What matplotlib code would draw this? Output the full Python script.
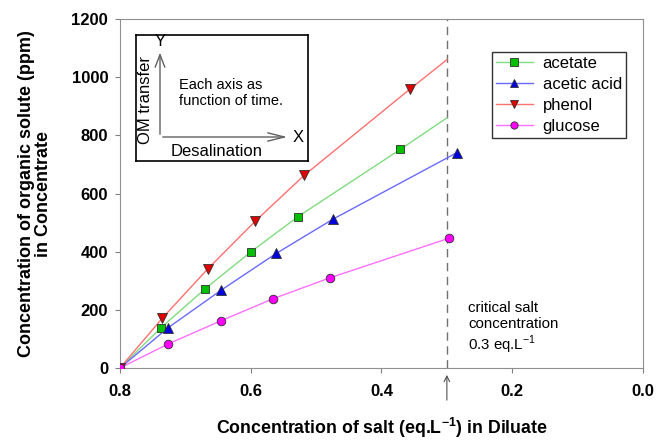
import numpy as np
import matplotlib
matplotlib.use("Agg")
import matplotlib.pyplot as plt

plt.rcParams['font.family'] = ['Liberation Sans', 'DejaVu Sans']
plt.rcParams['mathtext.fontset'] = 'custom'
plt.rcParams['mathtext.rm'] = 'Liberation Sans'
plt.rcParams['mathtext.bf'] = 'Liberation Sans:bold'

# -------------------- Data --------------------
acetate_x = [0.80, 0.737, 0.670, 0.600, 0.528, 0.371]
acetate_y = [0, 139, 272, 399, 520, 752]
acetic_x = [0.80, 0.726, 0.645, 0.561, 0.474, 0.285]
acetic_y = [0, 139, 268, 394, 512, 740]
phenol_x = [0.80, 0.735, 0.666, 0.593, 0.518, 0.357]
phenol_y = [0, 172, 340, 505, 663, 958]
glucose_x = [0.80, 0.726, 0.646, 0.566, 0.479, 0.297]
glucose_y = [0, 83, 162, 238, 310, 446]

# where the drawn curves end at the critical line
acetate_end = (0.30, 860)
phenol_end = (0.30, 1060)

critical_x = 0.3

series = [
    ("acetate", acetate_x, acetate_y, acetate_end, "s", 6.0, "#00c000", "#7fdc7f"),
    ("acetic acid", acetic_x, acetic_y, None, "^", 6.8, "#0000e0", "#6a6aff"),
    ("phenol", phenol_x, phenol_y, phenol_end, "v", 6.8, "#e00000", "#ff7070"),
    ("glucose", glucose_x, glucose_y, None, "o", 6.2, "#ff00ff", "#ff70ff"),
]

# -------------------- Plot --------------------
fig = plt.figure(figsize=(6.57, 4.42), dpi=100)
ax = fig.add_axes([0.1826, 0.1674, 0.7961, 0.7896])

for name, xs, ys, end, mk, ms, mc, lc in series:
    lx, ly = list(xs), list(ys)
    if end is not None:
        lx.append(end[0])
        ly.append(end[1])
    ax.plot(lx, ly, color=lc, lw=1.0, zorder=2)
    ax.plot(xs, ys, ls="none", marker=mk, ms=ms, mfc=mc, mec="#303030",
            mew=0.6, zorder=3)
    ax.plot([], [], color=lc, lw=1.0, marker=mk, ms=ms * 0.85, mfc=mc,
            mec="#303030", mew=0.6, label=name)

ax.axvline(critical_x, color="#707070", lw=1.0, ls=(0, (6, 4)), zorder=1)

ax.set_xlim(0.8, 0.0)
ax.set_ylim(0, 1200)
ax.set_xticks([0.8, 0.6, 0.4, 0.2, 0.0])
ax.set_xticklabels(["0.8", "0.6", "0.4", "0.2", "0.0"])
ax.set_yticks(np.arange(0, 1201, 200))
for lab in ax.get_xticklabels() + ax.get_yticklabels():
    lab.set_fontweight("bold")
    lab.set_fontsize(12)
ax.tick_params(direction="out", length=3.5, color="#808080")
ax.tick_params(axis="y", pad=5)
ax.tick_params(axis="x", pad=8)
for sp in ax.spines.values():
    sp.set_color("#909090")

ax.set_xlabel("Concentration of salt (eq.L$^{\\mathbf{-1}}$) in Diluate",
              fontsize=12.8, fontweight="bold", labelpad=12)
ax.set_ylabel("Concentration of organic solute (ppm)\nin Concentrate",
              fontsize=13, fontweight="bold", labelpad=14, linespacing=1.0)

leg = ax.legend(loc="upper right", bbox_to_anchor=(0.9675, 0.9054), fontsize=12,
                frameon=True, fancybox=False, edgecolor="black",
                handlelength=2.2, handletextpad=0.6, borderpad=0.25,
                labelspacing=0.36, borderaxespad=0)
leg.get_frame().set_linewidth(1.0)

ax.text(0.267, 232, "critical salt\nconcentration\n0.3 eq.L$^{-1}$",
        fontsize=10.8, va="top", ha="left", linespacing=1.2)

# arrow under the axis pointing at the critical concentration
ax.annotate("", xy=(critical_x, -14), xytext=(critical_x, -120),
            arrowprops=dict(arrowstyle="->", color="#505050", lw=0.8),
            annotation_clip=False)

# inset sketch box
inset = fig.add_axes([136 / 657, 1 - 161 / 442, 172 / 657, 126 / 442])
inset.set_xlim(0, 172)
inset.set_ylim(126, 0)
inset.set_xticks([])
inset.set_yticks([])
for sp in inset.spines.values():
    sp.set_linewidth(1.2)
inset.annotate("", xy=(24, 15), xytext=(24, 102),
               arrowprops=dict(arrowstyle="->,head_length=0.9,head_width=0.35",
                               color="#606060", lw=1.0))
inset.annotate("", xy=(154, 102), xytext=(24, 102),
               arrowprops=dict(arrowstyle="->,head_length=1.2,head_width=0.3",
                               color="#606060", lw=1.0))
inset.text(24, 7, "Y", fontsize=12, ha="center", va="center")
inset.text(162, 102, "X", fontsize=12, ha="center", va="center")
inset.text(9, 65, "OM transfer", fontsize=12, rotation=90, ha="center", va="center")
inset.text(81, 117, "Desalination", fontsize=12, ha="center", va="center")
inset.text(43, 58, "Each axis as\nfunction of time.", fontsize=10.5,
           ha="left", va="center", linespacing=1.2)

fig.savefig("out.png", dpi=100)
